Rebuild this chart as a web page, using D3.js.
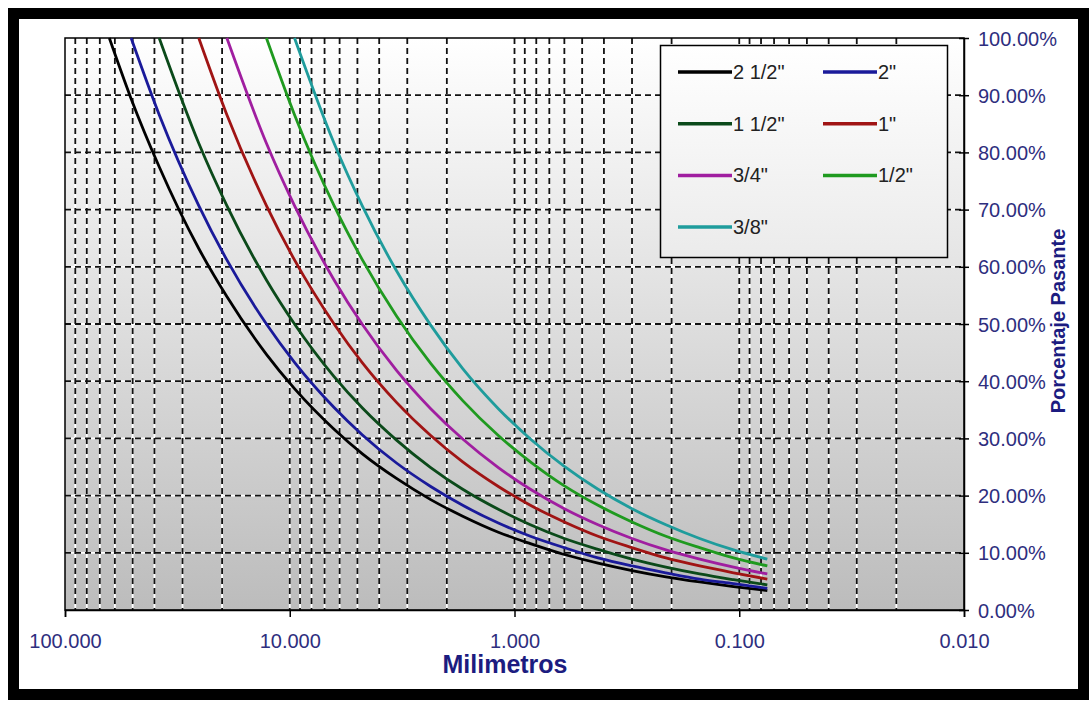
<!DOCTYPE html>
<meta charset="utf-8">
<script src="https://d3js.org/d3.v7.min.js"></script>

<style>
body {
  margin: 0;
  background: #fff;
  font-family: 'Liberation Sans', Arial, sans-serif;
}
svg {
  display: block;
}
text.tick {
  font-size: 20px;
  fill: #2e2e7e;
}
text.title {
  font-weight: bold;
  fill: #1c1c80;
}
text.legend {
  font-size: 20px;
  fill: #222;
}
</style>

<svg width="1091" height="702"></svg>

<script>
// sieve openings (mm)
const sizes = [63.5, 50.8, 38.1, 25.4, 19.05, 12.7, 9.525, 6.35, 4.75, 3.35, 2.36,
  1.7, 1.18, 0.85, 0.6, 0.425, 0.3, 0.212, 0.15, 0.106, 0.075];

const names = ['2 1/2"', '2"', '1 1/2"', '1"', '3/4"', '1/2"', '3/8"'];
const colors = ['#000000', '#1a1a9a', '#0b4a1a', '#a01414', '#a01ea0', '#1f9a1f', '#1f9c9c'];

// percent passing per curve (null = above max size)
const p212 = [100, 89.4, 77.5, 63.2, 54.8, 44.7, 38.7, 31.6, 27.3, 23.0, 19.3,
  16.4, 13.6, 11.6, 9.7, 8.2, 6.9, 5.8, 4.9, 4.1, 3.4];
const p2 = [null, 100, 86.6, 70.7, 61.2, 50.0, 43.3, 35.4, 30.6, 25.7, 21.6,
  18.3, 15.2, 12.9, 10.9, 9.1, 7.7, 6.5, 5.4, 4.6, 3.8];
const p112 = [null, null, 100, 81.6, 70.7, 57.7, 50.0, 40.8, 35.3, 29.7, 24.9,
  21.1, 17.6, 14.9, 12.5, 10.6, 8.9, 7.5, 6.3, 5.3, 4.4];
const p1 = [null, null, null, 100, 86.6, 70.7, 61.2, 50.0, 43.2, 36.3, 30.5,
  25.9, 21.6, 18.3, 15.4, 12.9, 10.9, 9.1, 7.7, 6.5, 5.4];
const p34 = [null, null, null, null, 100, 81.6, 70.7, 57.7, 49.9, 41.9, 35.2,
  29.9, 24.9, 21.1, 17.7, 14.9, 12.5, 10.5, 8.9, 7.5, 6.3];
const p12 = [null, null, null, null, null, 100, 86.6, 70.7, 61.2, 51.4, 43.1,
  36.6, 30.5, 25.9, 21.7, 18.3, 15.4, 12.9, 10.9, 9.1, 7.7];
const p38 = [null, null, null, null, null, null, 100, 81.6, 70.6, 59.3, 49.8,
  42.2, 35.2, 29.9, 25.1, 21.1, 17.7, 14.9, 12.5, 10.5, 8.9];

const xTicks = [100, 10, 1, 0.1, 0.01];
const yTicks = [0, 10, 20, 30, 40, 50, 60, 70, 80, 90, 100];

const series = [p212, p2, p112, p1, p34, p12, p38].map((vals, i) => ({
  name: names[i],
  color: colors[i],
  points: sizes.map((s, j) => ({ d: s, p: vals[j] })).filter(o => o.p !== null)
}));

const svg = d3.select('svg');

const plotL = 65, plotR = 964, plotT = 38, plotB = 610;

const x = d3.scaleLog().domain([100, 0.01]).range([plotL, plotR]);
const y = d3.scaleLinear().domain([0, 100]).range([plotB, plotT]);

const defs = svg.append('defs');
const grad = defs.append('linearGradient')
  .attr('id', 'bg').attr('x1', 0).attr('y1', 0).attr('x2', 0).attr('y2', 1);
grad.append('stop').attr('offset', '0%').attr('stop-color', '#ffffff');
grad.append('stop').attr('offset', '100%').attr('stop-color', '#bcbcbc');

const lgrad = defs.append('linearGradient')
  .attr('id', 'lg').attr('x1', 0).attr('y1', 0).attr('x2', 0).attr('y2', 1);
lgrad.append('stop').attr('offset', '0%').attr('stop-color', '#ffffff');
lgrad.append('stop').attr('offset', '100%').attr('stop-color', '#ebebeb');

// outer frame
svg.append('rect')
  .attr('x', 13.5).attr('y', 13.5)
  .attr('width', 1070).attr('height', 681)
  .attr('fill', 'none')
  .attr('stroke', '#000')
  .attr('stroke-width', 11);

// plot background
svg.append('rect')
  .attr('x', plotL).attr('y', plotT)
  .attr('width', plotR - plotL).attr('height', plotB - plotT)
  .attr('fill', 'url(#bg)');

// gridlines: white under, black dashes over
const grid = svg.append('g');
const vx = x.ticks().filter(v => v < 100 && v > 0.01);
const hy = yTicks.filter(v => v > 0 && v < 100);

[['#fff', null], ['#111', '6,4']].forEach(([c, dash]) => {
  grid.selectAll(null)
    .data(vx)
    .enter().append('line')
    .attr('x1', d => x(d)).attr('x2', d => x(d))
    .attr('y1', plotT).attr('y2', plotB)
    .attr('stroke', c).attr('stroke-width', 1.8)
    .attr('stroke-dasharray', dash);
  grid.selectAll(null)
    .data(hy)
    .enter().append('line')
    .attr('x1', plotL).attr('x2', plotR)
    .attr('y1', d => y(d)).attr('y2', d => y(d))
    .attr('stroke', c).attr('stroke-width', 1.8)
    .attr('stroke-dasharray', dash);
});

// plot border
svg.append('rect')
  .attr('x', plotL).attr('y', plotT)
  .attr('width', plotR - plotL).attr('height', plotB - plotT)
  .attr('fill', 'none')
  .attr('stroke', '#000')
  .attr('stroke-width', 1.5);

// curves
const line = d3.line()
  .x(d => x(d.d))
  .y(d => y(d.p))
  .curve(d3.curveMonotoneX);

svg.append('g').selectAll('path')
  .data(series)
  .enter().append('path')
  .attr('d', d => line(d.points))
  .attr('fill', 'none')
  .attr('stroke', d => d.color)
  .attr('stroke-width', 2.8);

// x axis
const xAxis = svg.append('g')
  .attr('transform', `translate(0,${plotB})`)
  .call(d3.axisBottom(x).tickValues(xTicks).tickSize(7).tickFormat(d3.format('.3f')));
xAxis.select('.domain').attr('stroke', '#000').attr('stroke-width', 1.5);
xAxis.selectAll('.tick line').attr('stroke', '#000').attr('stroke-width', 1.5);
xAxis.selectAll('.tick text')
  .attr('class', 'tick')
  .attr('y', 38)
  .attr('dy', 0)
  .style('font-family', "'Liberation Sans', Arial, sans-serif");

// y axis on the right
const yAxis = svg.append('g')
  .attr('transform', `translate(${plotR},0)`)
  .call(d3.axisRight(y).tickValues(yTicks).tickSizeInner(5).tickSizeOuter(0)
    .tickFormat(d => d3.format('.2f')(d) + '%'));
yAxis.select('.domain').attr('stroke', '#000').attr('stroke-width', 1.5);
yAxis.selectAll('.tick line')
  .attr('x1', -5).attr('x2', 5)
  .attr('stroke', '#000').attr('stroke-width', 1.5);
yAxis.selectAll('.tick text')
  .attr('class', 'tick')
  .attr('x', 14)
  .attr('dy', '0.35em')
  .style('font-family', "'Liberation Sans', Arial, sans-serif");
svg.selectAll('.tick text').attr('fill', null);

// axis titles
svg.append('text')
  .attr('class', 'title')
  .attr('x', 505).attr('y', 673)
  .attr('text-anchor', 'middle')
  .style('font-size', '25px')
  .text('Milimetros');

svg.append('text')
  .attr('class', 'title')
  .attr('transform', 'translate(1065,321) rotate(-90)')
  .attr('text-anchor', 'middle')
  .style('font-size', '20px')
  .text('Porcentaje Pasante');

// legend
const legend = svg.append('g');
legend.append('rect')
  .attr('x', 660.5).attr('y', 45.5)
  .attr('width', 287).attr('height', 212)
  .attr('fill', 'url(#lg)')
  .attr('stroke', '#000')
  .attr('stroke-width', 1.5);

const items = legend.selectAll('g.item')
  .data(series)
  .enter().append('g')
  .attr('class', 'item')
  .attr('transform', (d, i) => `translate(${678 + (i % 2) * 145},${72 + Math.floor(i / 2) * 51.7})`);

items.append('line')
  .attr('x1', 0).attr('x2', 54)
  .attr('stroke', d => d.color)
  .attr('stroke-width', 3.5);

items.append('text')
  .attr('class', 'legend')
  .attr('x', 55)
  .attr('dy', '0.35em')
  .text(d => d.name);
</script>
